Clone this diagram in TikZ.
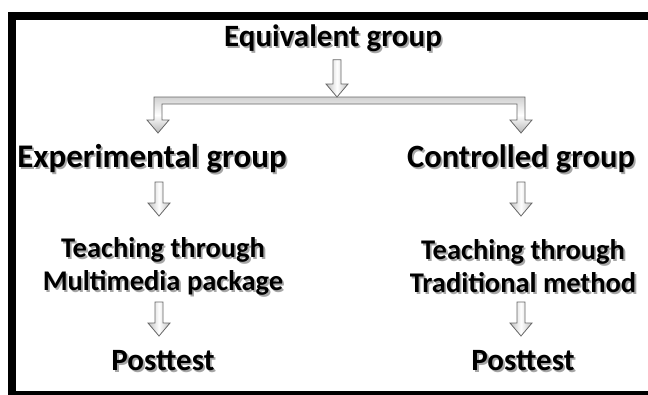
\documentclass[tikz,border=0pt]{standalone}
\usepackage{fontspec}
\setmainfont{Carlito}
\usetikzlibrary{positioning, calc}

% text with a soft grey shadow behind it
\newcommand{\shad}[1]{\leavevmode\rlap{\hspace{1.8pt}\raisebox{-2pt}{\textcolor{black!35}{#1}}}#1}
% hollow downward arrow from #1 to the tip #2
\newcommand{\hollowarrow}[2]{%
  \draw[harrow] ($(#1)+(-4,0)$) -- ($(#1)+(4,0)$) -- ($(#2)+(4,-13)$) -- ($(#2)+(11,-13)$) -- (#2)
    -- ($(#2)+(-11,-13)$) -- ($(#2)+(-4,-13)$) -- cycle;}

\begin{document}
\begin{tikzpicture}[x=1pt, y=-1pt,
	head/.style={inner sep=0, font=\fontsize{33}{38}\selectfont\bfseries},
	step2/.style={inner sep=0, align=center, font=\fontsize{28.5}{33}\selectfont\bfseries},
	harrow/.style={draw=black!60, line width=0.8pt, left color=black!25, right color=black!25, middle color=white},
	hbar/.style={draw=black!60, line width=0.8pt, top color=black!18, bottom color=black!28, middle color=white}]
		\useasboundingbox (0,0) rectangle (648,394);
		\draw[line width=8pt] (12,16) rectangle (680,395);

		\node[head, font=\fontsize{31}{36}\selectfont\bfseries] (equiv) at (333,39) {\shad{Equivalent group}};
		\node[head] (exper) at (152,160) {\shad{Experimental group}};
		\node[head, font=\fontsize{32.5}{38}\selectfont\bfseries] (contr) at (521,160) {\shad{Controlled group}};
		\node[step2] (teach1) at (163,267) {\shad{Teaching through}\\\shad{Multimedia package}};
		\node[step2] (teach2) at (523,267) {\shad{Teaching through}\\\shad{Traditional method}};
		\node[head, font=\fontsize{31}{36}\selectfont\bfseries] (post1) at (163,362) {\shad{Posttest}};
		\node[head, font=\fontsize{31}{36}\selectfont\bfseries] (post2) at (523,362) {\shad{Posttest}};

		\coordinate (split) at (337,97);
		\coordinate (tipl) at (158,133);
		\coordinate (tipr) at (521,133);
		\coordinate (s1) at (159,182);  \coordinate (e1) at (159,216);
		\coordinate (s2) at (521,182);  \coordinate (e2) at (521,216);
		\coordinate (s3) at (159,302);  \coordinate (e3) at (159,336);
		\coordinate (s4) at (521,302);  \coordinate (e4) at (521,336);

		% bar with the two branches
		\draw[hbar] ($(tipl)+(-4,-36)$) -- ($(tipr)+(4,-36)$) -- ($(tipr)+(4,-13)$) -- ($(tipr)+(11,-13)$) -- (tipr)
			-- ($(tipr)+(-11,-13)$) -- ($(tipr)+(-4,-13)$) -- ($(tipr)+(-4,-29)$) -- ($(tipl)+(4,-29)$)
			-- ($(tipl)+(4,-13)$) -- ($(tipl)+(11,-13)$) -- (tipl) -- ($(tipl)+(-11,-13)$) -- ($(tipl)+(-4,-13)$) -- cycle;
		\hollowarrow{$(equiv.south)+(4,6)$}{split}

		\hollowarrow{s1}{e1}
		\hollowarrow{s2}{e2}
		\hollowarrow{s3}{e3}
		\hollowarrow{s4}{e4}
	\end{tikzpicture}
\end{document}
